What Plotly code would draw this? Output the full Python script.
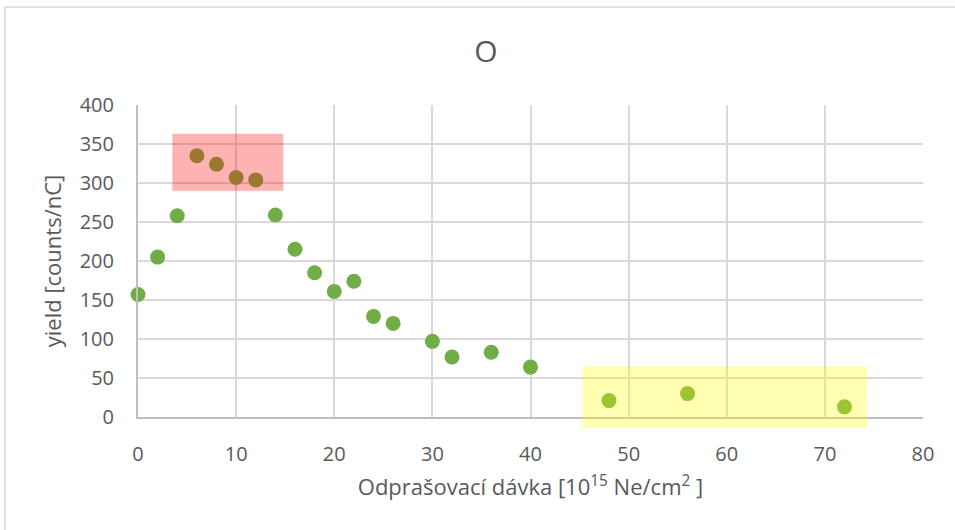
import plotly.graph_objects as go

dose = [0, 2, 4, 6, 8, 10, 12, 14, 16, 18, 20, 22, 24, 26, 30, 32, 36, 40, 48, 56, 72]
yield_vals = [157, 205, 258, 335, 324, 307, 304, 259, 215, 185, 161, 174, 129, 120, 97, 77, 83, 64, 21, 30, 13]

x_ticks = [0, 10, 20, 30, 40, 50, 60, 70, 80]
y_ticks = [0, 50, 100, 150, 200, 250, 300, 350, 400]

XR = (0, 80)
YR = (0, 400)

# highlight regions (data units)
red_box = dict(x0=3.5, x1=14.8, y0=290, y1=363)
yellow_box = dict(x0=45.3, x1=74.3, y0=-14, y1=65)

def dom(box):
    return dict(
        x0=(box["x0"] - XR[0]) / (XR[1] - XR[0]),
        x1=(box["x1"] - XR[0]) / (XR[1] - XR[0]),
        y0=(box["y0"] - YR[0]) / (YR[1] - YR[0]),
        y1=(box["y1"] - YR[0]) / (YR[1] - YR[0]),
    )

W, H = 955, 530
L, T, R, B = 138, 105, 32, 113
PW, PH = W - L - R, H - T - B

fig = go.Figure()
fig.add_trace(go.Scatter(
    x=dose, y=yield_vals, mode="markers",
    marker=dict(size=15, color="#70ad47", line=dict(width=0)),
    showlegend=False, cliponaxis=False,
))

font_family = "Open Sans"
grey = "#595959"

fig.update_layout(
    width=W, height=H,
    margin=dict(l=L, r=R, t=T, b=B),
    paper_bgcolor="white", plot_bgcolor="white",
    font=dict(family=font_family, color=grey),
    title=dict(text="O", x=486/W, xanchor="center", xref="container",
               y=1 - 51/H, yanchor="middle", font=dict(size=30, color=grey, family=font_family)),
    xaxis=dict(
        range=list(XR), tickvals=x_ticks, showgrid=True, gridcolor="#d9d9d9", gridwidth=1.5,
        zeroline=False, showline=True, linecolor="#bfbfbf", linewidth=2,
        ticks="", ticklabelstandoff=18, tickfont=dict(size=20, color=grey),
        title=dict(text="Odprašovací dávka [10<sup>15</sup> Ne/cm<sup>2</sup> ]",
                   font=dict(size=22, color=grey), standoff=14),
        fixedrange=True,
    ),
    yaxis=dict(
        range=list(YR), tickvals=y_ticks, showgrid=True, gridcolor="#d9d9d9", gridwidth=1.5,
        zeroline=False, showline=True, linecolor="#bfbfbf", linewidth=2,
        ticks="", ticklabelstandoff=18, tickfont=dict(size=20, color=grey),
        title=dict(text="yield [counts/nC]", font=dict(size=22, color=grey), standoff=12),
        fixedrange=True,
    ),
)

for box, col in [(red_box, "rgba(255,0,0,0.3)"), (yellow_box, "rgba(255,255,0,0.3)")]:
    d = dom(box)
    fig.add_shape(type="rect", xref="x domain", yref="y domain",
                  x0=d["x0"], x1=d["x1"], y0=d["y0"], y1=d["y1"],
                  fillcolor=col, line=dict(width=0), layer="above")

# outer chart border (right and bottom edges lie outside the visible area)
fig.add_shape(type="rect", xref="paper", yref="paper",
              x0=(5 - L) / PW, x1=(W + 60 - L) / PW,
              y0=-0.6, y1=(T + PH - 7) / PH,
              line=dict(color="#d9d9d9", width=1.5), fillcolor="rgba(0,0,0,0)", layer="below")

fig.write_html("out.html", config={"displayModeBar": False},
               post_script="document.body.style.margin='0';document.body.style.overflow='hidden';")
